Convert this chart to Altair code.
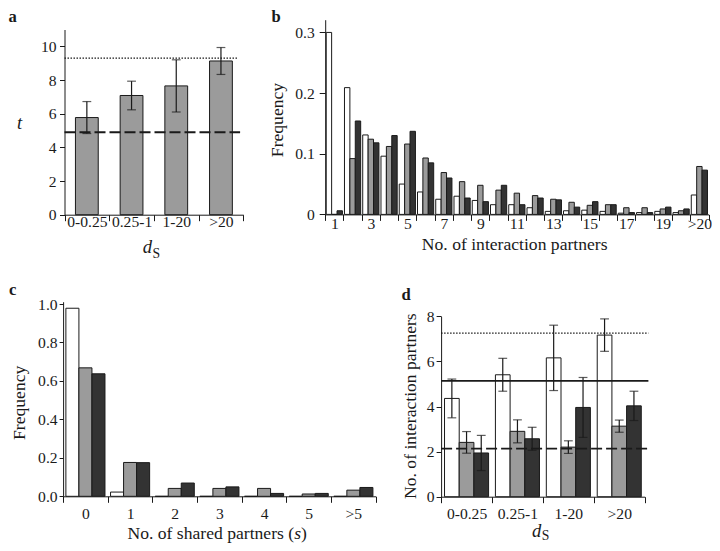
import json
import altair as alt
import pandas as pd

FONT = "Liberation Serif"
INK = "#1a1a1a"
SERIES = ["white", "gray", "dark"]
FILLS = ["#ffffff", "#9b9b9b", "#333333"]

# ---------------- data ----------------
# Panel a
a_cats = ["0-0.25", "0.25-1", "1-20", ">20"]
a_t = [5.77, 7.08, 7.65, 9.13]
a_err = [0.95, 0.85, 1.55, 0.80]
a_ref_dotted = 9.30
a_ref_dashed = 4.90
a_yticks = [0, 2, 4, 6, 8, 10]

# Panel b
b_cats = [str(i) for i in range(1, 21)] + [">20"]
b_shown = ["1", "3", "5", "7", "9", "11", "13", "15", "17", "19", ">20"]
b_white = [0.300, 0.209, 0.131, 0.096, 0.050, 0.037, 0.025, 0.030, 0.023, 0.016, 0.016,
           0.011, 0.005, 0.006, 0.007, 0.005, 0.002, 0.003, 0.005, 0.003, 0.032]
b_gray = [0.000, 0.092, 0.124, 0.112, 0.116, 0.093, 0.069, 0.054, 0.048, 0.040, 0.035,
          0.031, 0.025, 0.020, 0.015, 0.016, 0.011, 0.011, 0.009, 0.006, 0.079]
b_dark = [0.006, 0.154, 0.118, 0.130, 0.137, 0.085, 0.060, 0.027, 0.021, 0.048, 0.016,
          0.027, 0.024, 0.012, 0.021, 0.016, 0.003, 0.003, 0.012, 0.009, 0.073]
b_yticks = [0, 0.1, 0.2, 0.3]

# Panel c
c_cats = ["0", "1", "2", "3", "4", "5", ">5"]
c_white = [0.978, 0.022, 0.0, 0.0, 0.0, 0.0, 0.0]
c_gray = [0.668, 0.176, 0.041, 0.041, 0.041, 0.012, 0.032]
c_dark = [0.637, 0.175, 0.069, 0.049, 0.015, 0.015, 0.046]
c_yticks = [0, 0.2, 0.4, 0.6, 0.8, 1.0]

# Panel d
d_cats = ["0-0.25", "0.25-1", "1-20", ">20"]
d_white = [4.36, 5.41, 6.16, 7.17]
d_white_err = [0.86, 0.73, 1.45, 0.72]
d_gray = [2.41, 2.90, 2.20, 3.13]
d_gray_err = [0.48, 0.51, 0.28, 0.27]
d_dark = [1.94, 2.57, 3.96, 4.03]
d_dark_err = [0.78, 0.51, 1.33, 0.65]
d_ref_dotted = 7.26
d_ref_solid = 5.14
d_ref_dashed = 2.13
d_yticks = [0, 2, 4, 6, 8]

# ---------------- layout (one shared view, panels placed by scale ranges) ----------------
W, H = 704, 535
KX = 704 / 719
KY = 535 / 547


def vx(x):
    return round((x - 1) * KX, 1)


def vy(y):
    return round((y - 3) * KY, 1)


FS_TICK = 15.6
FS_TITLE = 17.6
FS_PANEL = 16.6

# panel boxes (x0, x1, y_bottom, y_top)
A_BOX = (vx(58.7), vx(241.3), vy(214.3), vy(25))
B_BOX = (vx(325), 700.5, vy(214), vy(15))
C_BOX = (vx(57.3), vx(376.5), vy(502.3), vy(303.3))
D_BOX = (vx(443.3), vx(651.3), vy(502.7), vy(318.3))


def txt(s, x, y, size=FS_TITLE, angle=0, style="normal", weight="normal",
        align="center", baseline="alphabetic"):
    kw = dict(font=FONT, fontSize=size, fontStyle=style, fontWeight=weight,
              align=align, baseline=baseline, color=INK)
    if angle:
        kw["angle"] = angle
    return alt.Chart(pd.DataFrame({"t": [s]})).mark_text(**kw).encode(
        text="t:N", x=alt.value(x), y=alt.value(y))


def long_df(cats, series_vals, series_err=None):
    rows = []
    for i, c in enumerate(cats):
        for k, s in enumerate(SERIES):
            v = series_vals[k][i]
            r = {"cat": c, "s": s, "val": v}
            if series_err is not None:
                e = series_err[k][i]
                r["lo"] = v - e
                r["hi"] = v + e
            rows.append(r)
    return pd.DataFrame(rows)


def x_band(cats, box, tick=6, pad=4, **extra):
    return alt.X("cat:N", sort=cats, title=None,
                 scale=alt.Scale(range=[box[0], box[1]], paddingInner=0, paddingOuter=0),
                 axis=alt.Axis(orient="bottom", offset=box[2] - H, labelAngle=0,
                               tickBand="extent", tickSize=tick, labelPadding=pad,
                               labelOverlap=False, **extra))


def y_lin(field, dom, box, values, tick=5, pad=3, **extra):
    return alt.Y(field, type="quantitative", title=None,
                 scale=alt.Scale(domain=dom, range=[box[2], box[3]], nice=False),
                 axis=alt.Axis(orient="left", offset=-box[0], values=values,
                               tickSize=tick, labelPadding=pad, **extra))


fill_enc = alt.Fill("s:N", scale=alt.Scale(domain=SERIES, range=FILLS), legend=None)

# ---------------- panel a ----------------
a_df = pd.DataFrame({"cat": a_cats, "val": a_t,
                     "lo": [v - e for v, e in zip(a_t, a_err)],
                     "hi": [v + e for v, e in zip(a_t, a_err)]})
a_x = x_band(a_cats, A_BOX, tick=6, pad=-6)


def a_y(f):
    return y_lin(f, [0, 11], A_BOX, a_yticks, tick=5, pad=3.5)


a_base = alt.Chart(a_df)
pa = alt.layer(
    a_base.mark_bar(fill=FILLS[1], stroke=INK, strokeWidth=1,
                    width=alt.RelativeBandSize(0.51)).encode(x=a_x, y=a_y("val")),
    a_base.mark_rule(color=INK, strokeWidth=1.2).encode(x=a_x, y=a_y("lo"), y2="hi"),
    a_base.mark_tick(color=INK, size=8.8, thickness=1.2).encode(x=a_x, y=a_y("lo")),
    a_base.mark_tick(color=INK, size=8.8, thickness=1.2).encode(x=a_x, y=a_y("hi")),
    alt.Chart(pd.DataFrame({"v": [a_ref_dotted]})).mark_rule(
        color=INK, strokeWidth=1.3, strokeDash=[1.5, 1.5]).encode(
        y=a_y("v"), x=alt.value(A_BOX[0]), x2=alt.value(vx(236))),
    alt.Chart(pd.DataFrame({"v": [a_ref_dashed]})).mark_rule(
        color=INK, strokeWidth=2, strokeDash=[11, 4]).encode(
        y=a_y("v"), x=alt.value(A_BOX[0]), x2=alt.value(vx(238))),
    txt("a", 0.5, 13.5, size=FS_PANEL, weight="bold", align="left"),
    txt("t", vx(13), vy(127), size=18.6, style="italic"),
    txt("d", vx(143.5), vy(253.3), size=18.6, style="italic"),
    txt("S", vx(148.7), vy(259), size=13.7, align="left"),
)

# ---------------- panel b ----------------
b_df = long_df(b_cats, [b_white, b_gray, b_dark])
pb = alt.layer(
    alt.Chart(b_df).mark_bar(stroke=INK, strokeWidth=1).encode(
        x=x_band(b_cats, B_BOX, tick=6, pad=-4,
                 labelExpr="indexof(" + json.dumps(b_shown) + ", datum.value) >= 0 ? datum.label : ''"),
        xOffset=alt.XOffset("s:N", sort=SERIES,
                            scale=alt.Scale(paddingInner=0, paddingOuter=0.19)),
        y=y_lin("val", [0, 0.321], B_BOX, b_yticks, tick=6, pad=5,
                labelExpr="datum.value == 0 ? '0' : format(datum.value, '.1f')"),
        fill=fill_enc,
    ),
    txt("b", vx(270), 13.5, size=FS_PANEL, weight="bold", align="left"),
    txt("Frequency", vx(276.5), vy(117.5), angle=270, baseline="middle"),
    txt("No. of interaction partners", vx(518.5), vy(250)),
)

# ---------------- panel c ----------------
c_df = long_df(c_cats, [c_white, c_gray, c_dark])
c_left = vx(123)
c_base_y = 531.2
w_main = 9.469 * FS_TITLE
pc = alt.layer(
    alt.Chart(c_df).mark_bar(stroke=INK, strokeWidth=1).encode(
        x=x_band(c_cats, C_BOX, tick=6, pad=4),
        xOffset=alt.XOffset("s:N", sort=SERIES,
                            scale=alt.Scale(paddingInner=0, paddingOuter=0.214)),
        y=y_lin("val", [0, 1.012], C_BOX, c_yticks, tick=4, pad=2, format=".1f"),
        fill=fill_enc,
    ),
    txt("c", vx(2), vy(296.7), size=FS_PANEL, weight="bold", align="left"),
    txt("Frequency", 12, vy(406.7), angle=270, baseline="middle"),
    txt("No. of shared partners (", c_left, c_base_y, align="left"),
    txt("s", c_left + w_main, c_base_y, style="italic", align="left"),
    txt(")", c_left + w_main + 0.389 * FS_TITLE, c_base_y, align="left"),
)

# ---------------- panel d ----------------
d_df = long_df(d_cats, [d_white, d_gray, d_dark], [d_white_err, d_gray_err, d_dark_err])
d_x = x_band(d_cats, D_BOX, tick=6, pad=4)
d_off = alt.XOffset("s:N", sort=SERIES, scale=alt.Scale(paddingInner=0, paddingOuter=0.233))


def d_y(f):
    return y_lin(f, [0, 8], D_BOX, d_yticks, tick=5, pad=2)


d_base = alt.Chart(d_df)
d_x_end = vx(655)
pdd = alt.layer(
    d_base.mark_bar(stroke=INK, strokeWidth=1).encode(x=d_x, xOffset=d_off, y=d_y("val"), fill=fill_enc),
    d_base.mark_rule(color=INK, strokeWidth=1.2).encode(x=d_x, xOffset=d_off, y=d_y("lo"), y2="hi"),
    d_base.mark_tick(color=INK, size=8.8, thickness=1.2).encode(x=d_x, xOffset=d_off, y=d_y("lo")),
    d_base.mark_tick(color=INK, size=8.8, thickness=1.2).encode(x=d_x, xOffset=d_off, y=d_y("hi")),
    alt.Chart(pd.DataFrame({"v": [d_ref_dotted]})).mark_rule(
        color=INK, strokeWidth=1.3, strokeDash=[1.5, 1.5]).encode(
        y=d_y("v"), x=alt.value(D_BOX[0]), x2=alt.value(d_x_end)),
    alt.Chart(pd.DataFrame({"v": [d_ref_solid]})).mark_rule(
        color=INK, strokeWidth=1.6).encode(
        y=d_y("v"), x=alt.value(D_BOX[0]), x2=alt.value(d_x_end)),
    alt.Chart(pd.DataFrame({"v": [d_ref_dashed]})).mark_rule(
        color=INK, strokeWidth=1.8, strokeDash=[11, 4]).encode(
        y=d_y("v"), x=alt.value(D_BOX[0]), x2=alt.value(d_x_end)),
    txt("d", vx(403), vy(302), size=FS_PANEL, weight="bold", align="left"),
    txt("No. of interaction partners", vx(413), vy(410), angle=270, baseline="middle"),
    txt("d", vx(541), 528.5, size=18.6, style="italic"),
    txt("S", vx(546.2), 532.2, size=13.7, align="left"),
)

chart = alt.layer(pa, pb, pc, pdd).resolve_scale(
    x="independent", y="independent", xOffset="independent"
).resolve_axis(x="independent", y="independent").properties(
    width=W, height=H, padding=0
).configure_view(strokeOpacity=0).configure_axis(
    labelFont=FONT, labelFontSize=FS_TICK, labelColor=INK, tickColor=INK,
    domainColor=INK, grid=False, tickWidth=1, domainWidth=1)

chart.save("out.html", embed_options={"renderer": "svg", "actions": False})
